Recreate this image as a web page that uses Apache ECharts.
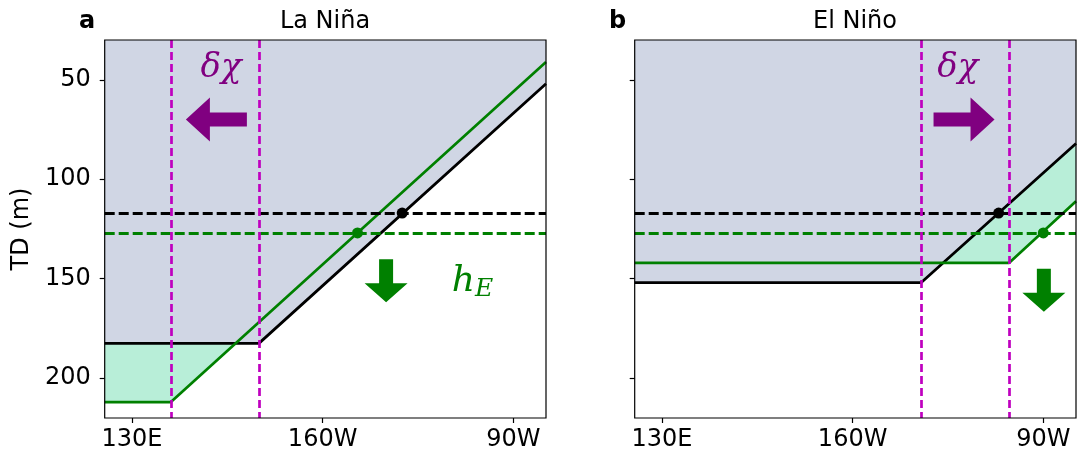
<!DOCTYPE html>
<html>
<head>
<meta charset="utf-8">
<script src="https://cdn.jsdelivr.net/npm/echarts@6/dist/echarts.min.js"></script>
<style>
  html, body { margin: 0; padding: 0; background: #fff; }
  #chart { width: 1079px; height: 458px; }
</style>
</head>
<body>
<div id="chart"></div>
<script>
// axis ticks
var lonTicks = [130, 200, 270];
var lonTickLabels = ['130E', '160W', '90W'];
var tdTicks = [50, 100, 150, 200];

// mean thermocline depth lines (reference black, shifted green)
var meanTD = [117, 127];

// La Nina panel
var laRefLon = [120, 176.6, 282];
var laRefTD = [182.5, 182.5, 52];
var laNewLon = [120, 144.3, 282];
var laNewTD = [212, 212, 41];
var laEdges = [144.3, 176.6];
var laDotLon = [229.2, 212.8];

// El Nino panel
var elRefLon = [120, 225.1, 282];
var elRefTD = [152, 152, 82];
var elNewLon = [120, 257.5, 282];
var elNewTD = [142, 142, 111];
var elEdges = [225.1, 257.5];
var elDotLon = [253.6, 270];

// annotation anchors [lon, TD]
var laShiftArrow = [161, 70];
var laDownArrow = [223.3, 151];
var laChiText = [162.7, 44];
var laHText = [255, 152];
var elShiftArrow = [240.9, 70];
var elDownArrow = [270.2, 155.8];
var elChiText = [238.6, 44];

var GREY = '#d0d6e4';
var MINT = '#b8eed8';
var GREEN = '#008000';
var MAGENTA = '#bf00bf';
var PURPLE = '#800080';
var FONT = 'DejaVu Sans';

var ARROW_LEFT = 'path://M0,22L24,0L24,15L61,15L61,29L24,29L24,44Z';
var ARROW_RIGHT = 'path://M61,22L37,0L37,15L0,15L0,29L37,29L37,44Z';
var ARROW_DOWN = 'path://M14.5,0L28.5,0L28.5,24L43,24L21.5,43L0,24L14.5,24Z';

function pts(lon, td) {
  return lon.map(function (x, i) { return [x, td[i]]; });
}

function panelSeries(idx, ref, neu, edges, dots, shiftArrow, shiftPath, downArrow, chiText, hText) {
  var base = { xAxisIndex: idx, yAxisIndex: idx, animation: false, silent: true };
  var s = [];
  s.push(Object.assign({}, base, {
    type: 'line', data: neu, symbol: 'none', z: 1,
    lineStyle: { width: 0 },
    areaStyle: { color: MINT, opacity: 1, origin: 'start' }
  }));
  s.push(Object.assign({}, base, {
    type: 'line', data: ref, symbol: 'none', z: 2,
    lineStyle: { width: 0 },
    areaStyle: { color: GREY, opacity: 1, origin: 'start' }
  }));
  s.push(Object.assign({}, base, {
    type: 'line', data: ref, symbol: 'none', z: 4,
    lineStyle: { color: '#000', width: 2.8 },
    markLine: {
      symbol: ['none', 'none'], silent: true, label: { show: false },
      data: [
        { yAxis: meanTD[0], lineStyle: { color: '#000', width: 2.8, type: [10, 4] } },
        { yAxis: meanTD[1], lineStyle: { color: GREEN, width: 2.8, type: [10, 4] } }
      ]
    }
  }));
  s.push(Object.assign({}, base, {
    type: 'line', data: neu, symbol: 'none', z: 4,
    lineStyle: { color: GREEN, width: 2.7 }
  }));
  s.push(Object.assign({}, base, {
    type: 'line', data: [], symbol: 'none', z: 6,
    markLine: {
      symbol: ['none', 'none'], silent: true, label: { show: false },
      lineStyle: { color: MAGENTA, width: 2.7, type: [8, 4] },
      data: edges.map(function (x) { return { xAxis: x }; })
    }
  }));
  s.push(Object.assign({}, base, {
    type: 'scatter', symbol: 'circle', symbolSize: 11, z: 7,
    data: [
      { value: [dots[0], meanTD[0]], itemStyle: { color: '#000', opacity: 1 } },
      { value: [dots[1], meanTD[1]], itemStyle: { color: GREEN, opacity: 1 } }
    ]
  }));
  s.push(Object.assign({}, base, {
    type: 'scatter', z: 7,
    data: [
      { value: shiftArrow, symbol: shiftPath, symbolSize: [61, 44], itemStyle: { color: PURPLE, opacity: 1 } },
      { value: downArrow, symbol: ARROW_DOWN, symbolSize: [43, 43], itemStyle: { color: GREEN, opacity: 1 } }
    ]
  }));
  var texts = [{
    value: chiText,
    label: {
      show: true, position: [0, 0], align: 'center', verticalAlign: 'middle',
      formatter: 'δχ', fontFamily: 'DejaVu Serif', fontStyle: 'italic',
      fontSize: 34, color: PURPLE
    }
  }];
  if (hText) {
    texts.push({
      value: hText,
      label: {
        show: true, position: [0, 0], align: 'center', verticalAlign: 'middle',
        formatter: '{h|h}{e|E}',
        rich: {
          h: { fontFamily: 'DejaVu Serif', fontStyle: 'italic', fontSize: 36, color: GREEN, verticalAlign: 'bottom', padding: [0, 0, 2, 0] },
          e: { fontFamily: 'DejaVu Serif', fontStyle: 'italic', fontSize: 25, color: GREEN, verticalAlign: 'bottom' }
        }
      }
    });
  }
  s.push(Object.assign({}, base, {
    type: 'scatter', symbolSize: 0, z: 8, itemStyle: { opacity: 1 }, data: texts
  }));
  return s;
}

function xAxisFor(idx) {
  return {
    type: 'value', gridIndex: idx, min: 120, max: 282,
    splitLine: { show: false }, axisLine: { show: false },
    axisTick: { show: true, customValues: lonTicks, length: 5, lineStyle: { color: '#000', width: 1.2 } },
    axisLabel: {
      show: true, customValues: lonTicks, margin: 10,
      fontFamily: FONT, fontSize: 24, color: '#000',
      formatter: function (v) { return lonTickLabels[lonTicks.indexOf(v)]; }
    }
  };
}

function yAxisFor(idx, labels) {
  var ax = {
    type: 'value', gridIndex: idx, min: 30, max: 220, inverse: true,
    splitLine: { show: false }, axisLine: { show: false },
    axisTick: { show: true, customValues: tdTicks, length: 5, lineStyle: { color: '#000', width: 1.2 } },
    axisLabel: {
      show: labels, customValues: tdTicks, margin: 14,
      fontFamily: FONT, fontSize: 24, color: '#000'
    }
  };
  if (labels) {
    ax.name = 'TD (m)';
    ax.nameLocation = 'middle';
    ax.nameGap = 71;
    ax.nameTextStyle = { fontFamily: FONT, fontSize: 24, color: '#000' };
  }
  return ax;
}

var titleStyle = { fontFamily: FONT, fontSize: 24, fontWeight: 'normal', color: '#000' };
var tagStyle = { fontFamily: FONT, fontSize: 24, fontWeight: 'bold', color: '#000' };

var chart = echarts.init(document.getElementById('chart'), null, { renderer: 'canvas' });
chart.setOption({
  animation: false,
  backgroundColor: '#fff',
  title: [
    { text: 'La Niña', left: 325, top: 10, padding: 0, textAlign: 'center', textStyle: titleStyle },
    { text: 'El Niño', left: 855, top: 10, padding: 0, textAlign: 'center', textStyle: titleStyle },
    { text: 'a', left: 79, top: 10, padding: 0, textStyle: tagStyle },
    { text: 'b', left: 609, top: 10, padding: 0, textStyle: tagStyle }
  ],
  grid: [
    { left: 104.7, top: 40, width: 441.3, height: 378, show: true, z: 10,
      borderColor: '#000', borderWidth: 1.2, backgroundColor: 'transparent' },
    { left: 634.7, top: 40, width: 441.3, height: 378, show: true, z: 10,
      borderColor: '#000', borderWidth: 1.2, backgroundColor: 'transparent' }
  ],
  xAxis: [xAxisFor(0), xAxisFor(1)],
  yAxis: [yAxisFor(0, true), yAxisFor(1, false)],
  series: [].concat(
    panelSeries(0, pts(laRefLon, laRefTD), pts(laNewLon, laNewTD), laEdges, laDotLon,
      laShiftArrow, ARROW_LEFT, laDownArrow, laChiText, laHText),
    panelSeries(1, pts(elRefLon, elRefTD), pts(elNewLon, elNewTD), elEdges, elDotLon,
      elShiftArrow, ARROW_RIGHT, elDownArrow, elChiText, null)
  )
});
</script>
</body>
</html>
